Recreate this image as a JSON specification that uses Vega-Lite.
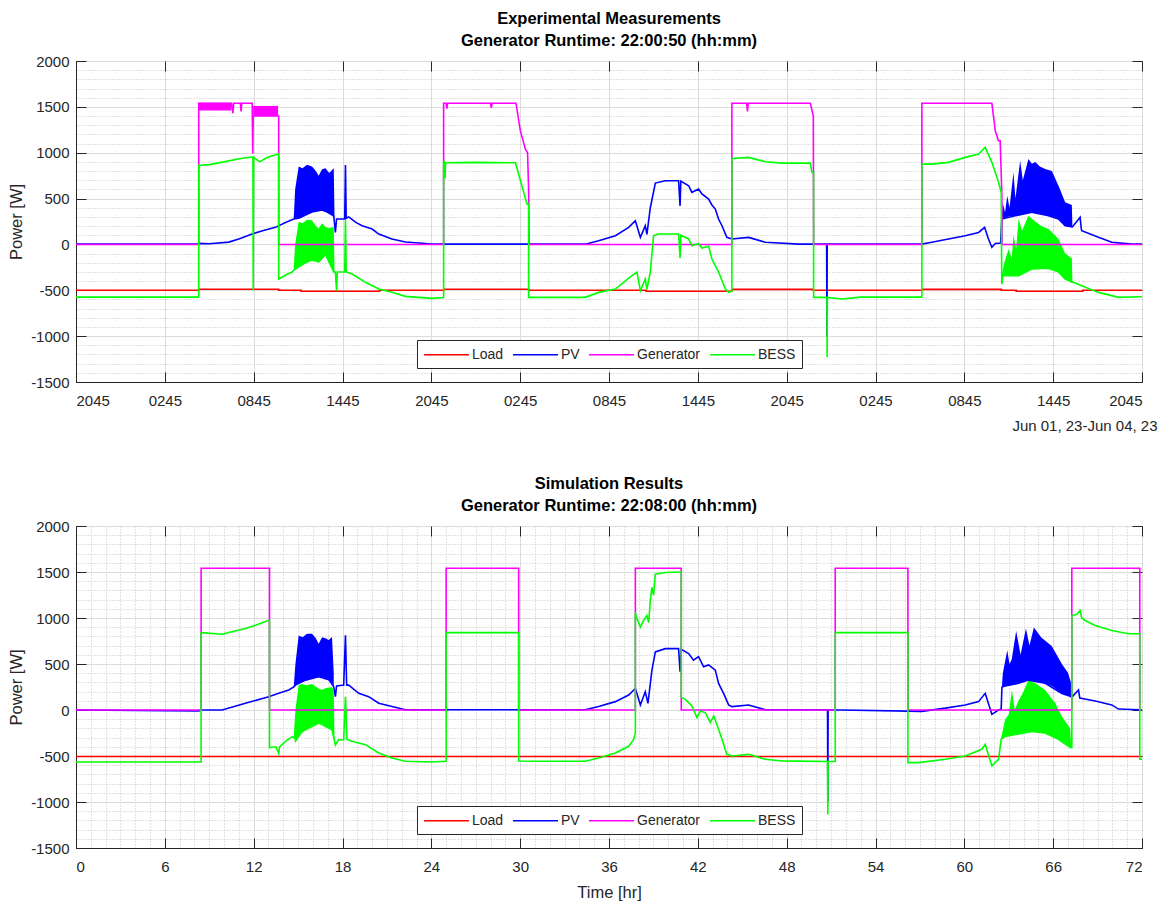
{
  "$schema": "https://vega.github.io/schema/vega-lite/v6.json",
  "background": "white",
  "padding": {"left": 8, "top": 10, "right": 2, "bottom": 2},
  "spacing": 41,
  "config": {
    "font": "Liberation Sans",
    "view": {"stroke": "#262626", "strokeWidth": 1},
    "axis": {"labelFont": "Liberation Sans", "labelFontSize": 15, "labelColor": "#262626", "titleFont": "Liberation Sans", "titleFontSize": 16.5, "titleFontWeight": "normal", "titleColor": "#262626", "domainColor": "#262626", "tickColor": "#262626", "labelOverlap": false, "labelBound": false},
    "title": {"font": "Liberation Sans", "fontSize": 16.5, "fontWeight": "bold", "color": "#000000", "lineHeight": 22, "offset": 5},
    "legend": {"orient": "none", "legendX": 341, "legendY": 279, "direction": "horizontal", "columns": 4, "symbolType": "M-1,0H5", "symbolSize": 225, "symbolStrokeWidth": 1.5, "labelOffset": 32, "labelFont": "Liberation Sans", "labelFontSize": 14, "labelColor": "#262626", "fillColor": "white", "strokeColor": "#262626", "padding": 6, "columnPadding": 6, "title": null}
  },
  "datasets": {
    "lines": [
      {"p":"E","s":"Load","t":0,"v":-500},{"p":"E","s":"Load","t":8.29,"v":-500},{"p":"E","s":"Load","t":8.29,"v":-488},{"p":"E","s":"Load","t":13.69,"v":-488},{"p":"E","s":"Load","t":13.69,"v":-500},{"p":"E","s":"Load","t":15.2,"v":-500},{"p":"E","s":"Load","t":15.2,"v":-510},{"p":"E","s":"Load","t":20.5,"v":-510},{"p":"E","s":"Load","t":20.5,"v":-500},{"p":"E","s":"Load","t":24.83,"v":-500},{"p":"E","s":"Load","t":24.83,"v":-488},{"p":"E","s":"Load","t":30.6,"v":-488},{"p":"E","s":"Load","t":30.6,"v":-500},{"p":"E","s":"Load","t":38.5,"v":-500},{"p":"E","s":"Load","t":38.5,"v":-510},{"p":"E","s":"Load","t":44.3,"v":-510},{"p":"E","s":"Load","t":44.3,"v":-490},{"p":"E","s":"Load","t":49.8,"v":-490},{"p":"E","s":"Load","t":49.8,"v":-500},{"p":"E","s":"Load","t":57.13,"v":-500},{"p":"E","s":"Load","t":57.13,"v":-490},{"p":"E","s":"Load","t":62.5,"v":-490},{"p":"E","s":"Load","t":62.5,"v":-500},{"p":"E","s":"Load","t":63.5,"v":-500},{"p":"E","s":"Load","t":63.5,"v":-510},{"p":"E","s":"Load","t":68,"v":-510},{"p":"E","s":"Load","t":68,"v":-500},{"p":"E","s":"Load","t":72,"v":-500},

      {"p":"E","s":"PV","t":0,"v":3},{"p":"E","s":"PV","t":8.25,"v":3},{"p":"E","s":"PV","t":8.3,"v":12},{"p":"E","s":"PV","t":9.0,"v":8},{"p":"E","s":"PV","t":10.32,"v":25},{"p":"E","s":"PV","t":11.0,"v":60},{"p":"E","s":"PV","t":11.89,"v":113},{"p":"E","s":"PV","t":12.6,"v":150},{"p":"E","s":"PV","t":13.47,"v":186},{"p":"E","s":"PV","t":14.15,"v":240},{"p":"E","s":"PV","t":14.71,"v":277},{"p":"E","s":"PV","t":15.04,"v":285},{"p":"E","s":"PV","t":15.5,"v":320},{"p":"E","s":"PV","t":15.94,"v":353},{"p":"E","s":"PV","t":16.62,"v":375},{"p":"E","s":"PV","t":17.0,"v":350},{"p":"E","s":"PV","t":17.41,"v":310},{"p":"E","s":"PV","t":17.52,"v":130},{"p":"E","s":"PV","t":17.6,"v":277},{"p":"E","s":"PV","t":18.15,"v":280},{"p":"E","s":"PV","t":18.2,"v":865},{"p":"E","s":"PV","t":18.25,"v":285},{"p":"E","s":"PV","t":18.42,"v":300},{"p":"E","s":"PV","t":18.9,"v":240},{"p":"E","s":"PV","t":19.32,"v":204},{"p":"E","s":"PV","t":20.0,"v":168},{"p":"E","s":"PV","t":20.45,"v":113},{"p":"E","s":"PV","t":21.34,"v":59},{"p":"E","s":"PV","t":22.25,"v":26},{"p":"E","s":"PV","t":23.15,"v":15},{"p":"E","s":"PV","t":24.05,"v":3},{"p":"E","s":"PV","t":34.4,"v":3},{"p":"E","s":"PV","t":35.3,"v":40},{"p":"E","s":"PV","t":36.43,"v":95},{"p":"E","s":"PV","t":37.33,"v":186},{"p":"E","s":"PV","t":37.78,"v":258},{"p":"E","s":"PV","t":38.12,"v":77},{"p":"E","s":"PV","t":38.45,"v":204},{"p":"E","s":"PV","t":38.56,"v":110},{"p":"E","s":"PV","t":38.79,"v":400},{"p":"E","s":"PV","t":39.13,"v":669},{"p":"E","s":"PV","t":39.8,"v":694},{"p":"E","s":"PV","t":40.7,"v":694},{"p":"E","s":"PV","t":40.8,"v":420},{"p":"E","s":"PV","t":40.85,"v":690},{"p":"E","s":"PV","t":41.38,"v":640},{"p":"E","s":"PV","t":41.6,"v":568},{"p":"E","s":"PV","t":42.05,"v":604},{"p":"E","s":"PV","t":42.28,"v":550},{"p":"E","s":"PV","t":42.73,"v":495},{"p":"E","s":"PV","t":42.95,"v":430},{"p":"E","s":"PV","t":43.18,"v":386},{"p":"E","s":"PV","t":43.4,"v":277},{"p":"E","s":"PV","t":43.63,"v":204},{"p":"E","s":"PV","t":43.96,"v":77},{"p":"E","s":"PV","t":44.3,"v":59},{"p":"E","s":"PV","t":45.43,"v":77},{"p":"E","s":"PV","t":46.56,"v":23},{"p":"E","s":"PV","t":48.8,"v":3},{"p":"E","s":"PV","t":50.7,"v":3},{"p":"E","s":"PV","t":50.72,"v":-1000},{"p":"E","s":"PV","t":50.74,"v":3},{"p":"E","s":"PV","t":57.13,"v":3},{"p":"E","s":"PV","t":57.8,"v":23},{"p":"E","s":"PV","t":58.93,"v":59},{"p":"E","s":"PV","t":60.06,"v":95},{"p":"E","s":"PV","t":60.96,"v":131},{"p":"E","s":"PV","t":61.37,"v":186},{"p":"E","s":"PV","t":61.63,"v":59},{"p":"E","s":"PV","t":61.86,"v":-32},{"p":"E","s":"PV","t":62.09,"v":10},{"p":"E","s":"PV","t":62.45,"v":15},{"p":"E","s":"PV","t":62.53,"v":277},{"p":"E","s":"PV","t":63.44,"v":313},{"p":"E","s":"PV","t":64.56,"v":350},{"p":"E","s":"PV","t":65.69,"v":313},{"p":"E","s":"PV","t":66.36,"v":277},{"p":"E","s":"PV","t":66.81,"v":204},{"p":"E","s":"PV","t":67.3,"v":190},{"p":"E","s":"PV","t":67.82,"v":295},{"p":"E","s":"PV","t":67.9,"v":170},{"p":"E","s":"PV","t":67.93,"v":150},{"p":"E","s":"PV","t":69.06,"v":77},{"p":"E","s":"PV","t":69.96,"v":23},{"p":"E","s":"PV","t":71.31,"v":3},{"p":"E","s":"PV","t":72,"v":3},

      {"p":"E","s":"Generator","t":0,"v":0},{"p":"E","s":"Generator","t":8.29,"v":0},{"p":"E","s":"Generator","t":8.29,"v":1540},{"p":"E","s":"Generator","t":10.5,"v":1540},{"p":"E","s":"Generator","t":10.6,"v":1430},{"p":"E","s":"Generator","t":10.65,"v":1540},{"p":"E","s":"Generator","t":11.1,"v":1540},{"p":"E","s":"Generator","t":11.15,"v":1450},{"p":"E","s":"Generator","t":11.2,"v":1540},{"p":"E","s":"Generator","t":11.9,"v":1540},{"p":"E","s":"Generator","t":11.94,"v":990},{"p":"E","s":"Generator","t":11.97,"v":1400},{"p":"E","s":"Generator","t":13.69,"v":1400},{"p":"E","s":"Generator","t":13.69,"v":0},{"p":"E","s":"Generator","t":24.83,"v":0},{"p":"E","s":"Generator","t":24.83,"v":1540},{"p":"E","s":"Generator","t":25.0,"v":1540},{"p":"E","s":"Generator","t":25.05,"v":1480},{"p":"E","s":"Generator","t":25.1,"v":1540},{"p":"E","s":"Generator","t":28.0,"v":1540},{"p":"E","s":"Generator","t":28.05,"v":1490},{"p":"E","s":"Generator","t":28.1,"v":1540},{"p":"E","s":"Generator","t":29.72,"v":1540},{"p":"E","s":"Generator","t":30.01,"v":1240},{"p":"E","s":"Generator","t":30.35,"v":1040},{"p":"E","s":"Generator","t":30.5,"v":1000},{"p":"E","s":"Generator","t":30.57,"v":603},{"p":"E","s":"Generator","t":30.6,"v":0},{"p":"E","s":"Generator","t":44.3,"v":0},{"p":"E","s":"Generator","t":44.3,"v":1540},{"p":"E","s":"Generator","t":45.3,"v":1540},{"p":"E","s":"Generator","t":45.35,"v":1450},{"p":"E","s":"Generator","t":45.4,"v":1540},{"p":"E","s":"Generator","t":49.6,"v":1540},{"p":"E","s":"Generator","t":49.8,"v":1400},{"p":"E","s":"Generator","t":49.82,"v":0},{"p":"E","s":"Generator","t":57.13,"v":0},{"p":"E","s":"Generator","t":57.13,"v":1540},{"p":"E","s":"Generator","t":61.86,"v":1540},{"p":"E","s":"Generator","t":62.09,"v":1240},{"p":"E","s":"Generator","t":62.3,"v":1130},{"p":"E","s":"Generator","t":62.42,"v":1130},{"p":"E","s":"Generator","t":62.53,"v":568},{"p":"E","s":"Generator","t":62.55,"v":0},{"p":"E","s":"Generator","t":72,"v":0},

      {"p":"E","s":"BESS","t":0,"v":-575},{"p":"E","s":"BESS","t":8.29,"v":-575},{"p":"E","s":"BESS","t":8.29,"v":860},{"p":"E","s":"BESS","t":9.0,"v":870},{"p":"E","s":"BESS","t":10.0,"v":900},{"p":"E","s":"BESS","t":11.0,"v":935},{"p":"E","s":"BESS","t":11.95,"v":955},{"p":"E","s":"BESS","t":11.97,"v":-505},{"p":"E","s":"BESS","t":12.0,"v":950},{"p":"E","s":"BESS","t":12.4,"v":900},{"p":"E","s":"BESS","t":12.8,"v":940},{"p":"E","s":"BESS","t":13.2,"v":965},{"p":"E","s":"BESS","t":13.69,"v":985},{"p":"E","s":"BESS","t":13.69,"v":-377},{"p":"E","s":"BESS","t":14.2,"v":-330},{"p":"E","s":"BESS","t":14.6,"v":-301},{"p":"E","s":"BESS","t":14.71,"v":-280},{"p":"E","s":"BESS","t":15.04,"v":-245},{"p":"E","s":"BESS","t":15.5,"v":-200},{"p":"E","s":"BESS","t":15.94,"v":-170},{"p":"E","s":"BESS","t":16.4,"v":-190},{"p":"E","s":"BESS","t":16.85,"v":-110},{"p":"E","s":"BESS","t":17.41,"v":-300},{"p":"E","s":"BESS","t":17.52,"v":-300},{"p":"E","s":"BESS","t":17.6,"v":-505},{"p":"E","s":"BESS","t":17.65,"v":-300},{"p":"E","s":"BESS","t":18.15,"v":-300},{"p":"E","s":"BESS","t":18.2,"v":264},{"p":"E","s":"BESS","t":18.25,"v":-300},{"p":"E","s":"BESS","t":18.65,"v":-323},{"p":"E","s":"BESS","t":19.55,"v":-413},{"p":"E","s":"BESS","t":20.45,"v":-486},{"p":"E","s":"BESS","t":21.34,"v":-522},{"p":"E","s":"BESS","t":22.25,"v":-566},{"p":"E","s":"BESS","t":24.05,"v":-588},{"p":"E","s":"BESS","t":24.83,"v":-580},{"p":"E","s":"BESS","t":24.83,"v":900},{"p":"E","s":"BESS","t":24.9,"v":900},{"p":"E","s":"BESS","t":24.93,"v":720},{"p":"E","s":"BESS","t":24.96,"v":890},{"p":"E","s":"BESS","t":27,"v":895},{"p":"E","s":"BESS","t":29.68,"v":890},{"p":"E","s":"BESS","t":30.46,"v":440},{"p":"E","s":"BESS","t":30.57,"v":440},{"p":"E","s":"BESS","t":30.57,"v":-577},{"p":"E","s":"BESS","t":34.4,"v":-577},{"p":"E","s":"BESS","t":35.3,"v":-523},{"p":"E","s":"BESS","t":36.43,"v":-486},{"p":"E","s":"BESS","t":37.55,"v":-341},{"p":"E","s":"BESS","t":37.89,"v":-301},{"p":"E","s":"BESS","t":38.12,"v":-505},{"p":"E","s":"BESS","t":38.45,"v":-377},{"p":"E","s":"BESS","t":38.56,"v":-490},{"p":"E","s":"BESS","t":38.79,"v":-300},{"p":"E","s":"BESS","t":39.01,"v":95},{"p":"E","s":"BESS","t":39.35,"v":113},{"p":"E","s":"BESS","t":40.7,"v":113},{"p":"E","s":"BESS","t":40.8,"v":-150},{"p":"E","s":"BESS","t":40.85,"v":100},{"p":"E","s":"BESS","t":41.38,"v":60},{"p":"E","s":"BESS","t":41.6,"v":-14},{"p":"E","s":"BESS","t":42.05,"v":10},{"p":"E","s":"BESS","t":42.28,"v":-40},{"p":"E","s":"BESS","t":42.73,"v":-20},{"p":"E","s":"BESS","t":42.95,"v":-159},{"p":"E","s":"BESS","t":43.4,"v":-301},{"p":"E","s":"BESS","t":43.86,"v":-486},{"p":"E","s":"BESS","t":44.08,"v":-523},{"p":"E","s":"BESS","t":44.3,"v":-510},{"p":"E","s":"BESS","t":44.3,"v":938},{"p":"E","s":"BESS","t":45.43,"v":949},{"p":"E","s":"BESS","t":46.56,"v":901},{"p":"E","s":"BESS","t":47.68,"v":887},{"p":"E","s":"BESS","t":49.6,"v":887},{"p":"E","s":"BESS","t":49.7,"v":785},{"p":"E","s":"BESS","t":49.82,"v":785},{"p":"E","s":"BESS","t":49.82,"v":-577},{"p":"E","s":"BESS","t":50.72,"v":-577},{"p":"E","s":"BESS","t":50.73,"v":-1231},{"p":"E","s":"BESS","t":50.75,"v":-577},{"p":"E","s":"BESS","t":51.73,"v":-595},{"p":"E","s":"BESS","t":53,"v":-575},{"p":"E","s":"BESS","t":57.13,"v":-575},{"p":"E","s":"BESS","t":57.13,"v":876},{"p":"E","s":"BESS","t":57.8,"v":876},{"p":"E","s":"BESS","t":58.93,"v":895},{"p":"E","s":"BESS","t":60.06,"v":949},{"p":"E","s":"BESS","t":60.96,"v":985},{"p":"E","s":"BESS","t":61.41,"v":1058},{"p":"E","s":"BESS","t":61.86,"v":895},{"p":"E","s":"BESS","t":62.31,"v":677},{"p":"E","s":"BESS","t":62.49,"v":568},{"p":"E","s":"BESS","t":62.53,"v":-432},{"p":"E","s":"BESS","t":62.6,"v":-341},{"p":"E","s":"BESS","t":63.66,"v":-341},{"p":"E","s":"BESS","t":64.56,"v":-268},{"p":"E","s":"BESS","t":65.69,"v":-260},{"p":"E","s":"BESS","t":66.36,"v":-301},{"p":"E","s":"BESS","t":66.81,"v":-377},{"p":"E","s":"BESS","t":67.93,"v":-450},{"p":"E","s":"BESS","t":69.06,"v":-523},{"p":"E","s":"BESS","t":70.41,"v":-577},{"p":"E","s":"BESS","t":71.76,"v":-570},{"p":"E","s":"BESS","t":72,"v":-570},

      {"p":"S","s":"Load","t":0,"v":-505},{"p":"S","s":"Load","t":72,"v":-505},

      {"p":"S","s":"PV","t":0,"v":0},{"p":"S","s":"PV","t":8.29,"v":-11},{"p":"S","s":"PV","t":8.45,"v":0},{"p":"S","s":"PV","t":9.87,"v":0},{"p":"S","s":"PV","t":11.44,"v":73},{"p":"S","s":"PV","t":13.02,"v":145},{"p":"S","s":"PV","t":13.69,"v":181},{"p":"S","s":"PV","t":14.37,"v":217},{"p":"S","s":"PV","t":14.71,"v":250},{"p":"S","s":"PV","t":14.82,"v":270},{"p":"S","s":"PV","t":15.5,"v":325},{"p":"S","s":"PV","t":16.39,"v":361},{"p":"S","s":"PV","t":17.07,"v":330},{"p":"S","s":"PV","t":17.41,"v":253},{"p":"S","s":"PV","t":17.52,"v":145},{"p":"S","s":"PV","t":17.6,"v":260},{"p":"S","s":"PV","t":18.08,"v":270},{"p":"S","s":"PV","t":18.2,"v":811},{"p":"S","s":"PV","t":18.28,"v":270},{"p":"S","s":"PV","t":18.42,"v":270},{"p":"S","s":"PV","t":19.1,"v":181},{"p":"S","s":"PV","t":19.77,"v":145},{"p":"S","s":"PV","t":20.45,"v":73},{"p":"S","s":"PV","t":21.34,"v":37},{"p":"S","s":"PV","t":22.25,"v":3},{"p":"S","s":"PV","t":34.4,"v":3},{"p":"S","s":"PV","t":35.3,"v":37},{"p":"S","s":"PV","t":36.43,"v":91},{"p":"S","s":"PV","t":37.33,"v":163},{"p":"S","s":"PV","t":37.78,"v":235},{"p":"S","s":"PV","t":38.12,"v":55},{"p":"S","s":"PV","t":38.45,"v":199},{"p":"S","s":"PV","t":38.63,"v":73},{"p":"S","s":"PV","t":38.9,"v":433},{"p":"S","s":"PV","t":39.13,"v":631},{"p":"S","s":"PV","t":39.8,"v":667},{"p":"S","s":"PV","t":40.7,"v":667},{"p":"S","s":"PV","t":40.8,"v":415},{"p":"S","s":"PV","t":40.88,"v":660},{"p":"S","s":"PV","t":41.38,"v":613},{"p":"S","s":"PV","t":41.71,"v":541},{"p":"S","s":"PV","t":42.05,"v":580},{"p":"S","s":"PV","t":42.39,"v":469},{"p":"S","s":"PV","t":42.73,"v":490},{"p":"S","s":"PV","t":43.18,"v":433},{"p":"S","s":"PV","t":43.4,"v":289},{"p":"S","s":"PV","t":43.74,"v":181},{"p":"S","s":"PV","t":44.08,"v":55},{"p":"S","s":"PV","t":44.3,"v":37},{"p":"S","s":"PV","t":45.43,"v":55},{"p":"S","s":"PV","t":46.56,"v":3},{"p":"S","s":"PV","t":50.76,"v":3},{"p":"S","s":"PV","t":50.78,"v":-1000},{"p":"S","s":"PV","t":50.8,"v":3},{"p":"S","s":"PV","t":57.13,"v":-15},{"p":"S","s":"PV","t":58.71,"v":20},{"p":"S","s":"PV","t":60.06,"v":55},{"p":"S","s":"PV","t":60.96,"v":91},{"p":"S","s":"PV","t":61.41,"v":181},{"p":"S","s":"PV","t":61.86,"v":-47},{"p":"S","s":"PV","t":62.31,"v":0},{"p":"S","s":"PV","t":62.49,"v":10},{"p":"S","s":"PV","t":62.54,"v":250},{"p":"S","s":"PV","t":62.76,"v":261},{"p":"S","s":"PV","t":63.66,"v":290},{"p":"S","s":"PV","t":64.33,"v":325},{"p":"S","s":"PV","t":65.46,"v":290},{"p":"S","s":"PV","t":66.59,"v":180},{"p":"S","s":"PV","t":67.15,"v":150},{"p":"S","s":"PV","t":67.26,"v":140},{"p":"S","s":"PV","t":67.71,"v":217},{"p":"S","s":"PV","t":67.8,"v":130},{"p":"S","s":"PV","t":68.84,"v":98},{"p":"S","s":"PV","t":69.96,"v":55},{"p":"S","s":"PV","t":70.41,"v":10},{"p":"S","s":"PV","t":71.76,"v":3},{"p":"S","s":"PV","t":72,"v":3},

      {"p":"S","s":"Generator","t":0,"v":0},{"p":"S","s":"Generator","t":8.45,"v":0},{"p":"S","s":"Generator","t":8.45,"v":1540},{"p":"S","s":"Generator","t":13.07,"v":1540},{"p":"S","s":"Generator","t":13.07,"v":0},{"p":"S","s":"Generator","t":25.0,"v":0},{"p":"S","s":"Generator","t":25.0,"v":1540},{"p":"S","s":"Generator","t":29.9,"v":1540},{"p":"S","s":"Generator","t":29.9,"v":0},{"p":"S","s":"Generator","t":37.78,"v":0},{"p":"S","s":"Generator","t":37.78,"v":1540},{"p":"S","s":"Generator","t":40.88,"v":1540},{"p":"S","s":"Generator","t":40.88,"v":0},{"p":"S","s":"Generator","t":51.28,"v":0},{"p":"S","s":"Generator","t":51.28,"v":1540},{"p":"S","s":"Generator","t":56.19,"v":1540},{"p":"S","s":"Generator","t":56.19,"v":0},{"p":"S","s":"Generator","t":67.26,"v":0},{"p":"S","s":"Generator","t":67.26,"v":1540},{"p":"S","s":"Generator","t":71.85,"v":1540},{"p":"S","s":"Generator","t":71.85,"v":0},{"p":"S","s":"Generator","t":72,"v":0},

      {"p":"S","s":"BESS","t":0,"v":-565},{"p":"S","s":"BESS","t":8.45,"v":-565},{"p":"S","s":"BESS","t":8.45,"v":841},{"p":"S","s":"BESS","t":9.87,"v":823},{"p":"S","s":"BESS","t":10.54,"v":850},{"p":"S","s":"BESS","t":11.44,"v":885},{"p":"S","s":"BESS","t":12.12,"v":920},{"p":"S","s":"BESS","t":13.02,"v":975},{"p":"S","s":"BESS","t":13.07,"v":975},{"p":"S","s":"BESS","t":13.07,"v":-409},{"p":"S","s":"BESS","t":13.5,"v":-400},{"p":"S","s":"BESS","t":13.69,"v":-470},{"p":"S","s":"BESS","t":13.75,"v":-400},{"p":"S","s":"BESS","t":14.15,"v":-341},{"p":"S","s":"BESS","t":14.59,"v":-290},{"p":"S","s":"BESS","t":14.71,"v":-300},{"p":"S","s":"BESS","t":15.04,"v":-250},{"p":"S","s":"BESS","t":15.5,"v":-215},{"p":"S","s":"BESS","t":16.4,"v":-143},{"p":"S","s":"BESS","t":17.29,"v":-215},{"p":"S","s":"BESS","t":17.52,"v":-380},{"p":"S","s":"BESS","t":17.74,"v":-323},{"p":"S","s":"BESS","t":18.08,"v":-323},{"p":"S","s":"BESS","t":18.2,"v":145},{"p":"S","s":"BESS","t":18.3,"v":-320},{"p":"S","s":"BESS","t":18.64,"v":-340},{"p":"S","s":"BESS","t":19.55,"v":-377},{"p":"S","s":"BESS","t":20.45,"v":-467},{"p":"S","s":"BESS","t":21.34,"v":-521},{"p":"S","s":"BESS","t":22.25,"v":-557},{"p":"S","s":"BESS","t":24.05,"v":-565},{"p":"S","s":"BESS","t":25.0,"v":-557},{"p":"S","s":"BESS","t":25.0,"v":841},{"p":"S","s":"BESS","t":29.9,"v":841},{"p":"S","s":"BESS","t":29.9,"v":-554},{"p":"S","s":"BESS","t":30.8,"v":-557},{"p":"S","s":"BESS","t":34.4,"v":-557},{"p":"S","s":"BESS","t":35.3,"v":-521},{"p":"S","s":"BESS","t":36.43,"v":-467},{"p":"S","s":"BESS","t":37.33,"v":-395},{"p":"S","s":"BESS","t":37.66,"v":-323},{"p":"S","s":"BESS","t":37.78,"v":-251},{"p":"S","s":"BESS","t":37.78,"v":1063},{"p":"S","s":"BESS","t":37.85,"v":1009},{"p":"S","s":"BESS","t":38.12,"v":901},{"p":"S","s":"BESS","t":38.34,"v":973},{"p":"S","s":"BESS","t":38.56,"v":1027},{"p":"S","s":"BESS","t":38.68,"v":950},{"p":"S","s":"BESS","t":38.79,"v":1189},{"p":"S","s":"BESS","t":38.9,"v":1333},{"p":"S","s":"BESS","t":39.01,"v":1250},{"p":"S","s":"BESS","t":39.13,"v":1477},{"p":"S","s":"BESS","t":39.8,"v":1495},{"p":"S","s":"BESS","t":40.82,"v":1500},{"p":"S","s":"BESS","t":40.88,"v":1500},{"p":"S","s":"BESS","t":40.88,"v":135},{"p":"S","s":"BESS","t":41.15,"v":116},{"p":"S","s":"BESS","t":41.6,"v":43},{"p":"S","s":"BESS","t":41.94,"v":-83},{"p":"S","s":"BESS","t":42.17,"v":-11},{"p":"S","s":"BESS","t":42.5,"v":-28},{"p":"S","s":"BESS","t":42.84,"v":-137},{"p":"S","s":"BESS","t":43.07,"v":-65},{"p":"S","s":"BESS","t":43.4,"v":-210},{"p":"S","s":"BESS","t":43.63,"v":-318},{"p":"S","s":"BESS","t":43.96,"v":-482},{"p":"S","s":"BESS","t":44.3,"v":-500},{"p":"S","s":"BESS","t":45.43,"v":-482},{"p":"S","s":"BESS","t":46.56,"v":-536},{"p":"S","s":"BESS","t":47.68,"v":-554},{"p":"S","s":"BESS","t":48.8,"v":-556},{"p":"S","s":"BESS","t":50.76,"v":-560},{"p":"S","s":"BESS","t":50.78,"v":-1134},{"p":"S","s":"BESS","t":50.8,"v":-560},{"p":"S","s":"BESS","t":51.28,"v":-560},{"p":"S","s":"BESS","t":51.28,"v":841},{"p":"S","s":"BESS","t":56.19,"v":841},{"p":"S","s":"BESS","t":56.19,"v":-572},{"p":"S","s":"BESS","t":56.91,"v":-572},{"p":"S","s":"BESS","t":58.71,"v":-536},{"p":"S","s":"BESS","t":60.06,"v":-500},{"p":"S","s":"BESS","t":61.18,"v":-427},{"p":"S","s":"BESS","t":61.41,"v":-372},{"p":"S","s":"BESS","t":61.86,"v":-608},{"p":"S","s":"BESS","t":62.31,"v":-536},{"p":"S","s":"BESS","t":62.49,"v":-318},{"p":"S","s":"BESS","t":62.76,"v":-287},{"p":"S","s":"BESS","t":63.66,"v":-260},{"p":"S","s":"BESS","t":64.56,"v":-233},{"p":"S","s":"BESS","t":65.46,"v":-250},{"p":"S","s":"BESS","t":66.36,"v":-318},{"p":"S","s":"BESS","t":67.03,"v":-395},{"p":"S","s":"BESS","t":67.21,"v":-410},{"p":"S","s":"BESS","t":67.26,"v":-410},{"p":"S","s":"BESS","t":67.26,"v":1027},{"p":"S","s":"BESS","t":67.6,"v":1040},{"p":"S","s":"BESS","t":67.82,"v":1081},{"p":"S","s":"BESS","t":67.93,"v":1000},{"p":"S","s":"BESS","t":68.16,"v":973},{"p":"S","s":"BESS","t":68.84,"v":919},{"p":"S","s":"BESS","t":69.96,"v":865},{"p":"S","s":"BESS","t":71.09,"v":829},{"p":"S","s":"BESS","t":71.85,"v":829},{"p":"S","s":"BESS","t":71.85,"v":-536},{"p":"S","s":"BESS","t":72,"v":-536}
    ],
    "bands": [
      {"p":"E","s":"Generator","b":"E3","t":8.3,"lo":1460,"hi":1545},{"p":"E","s":"Generator","b":"E3","t":10.5,"lo":1460,"hi":1545},
      {"p":"E","s":"Generator","b":"E4","t":11.97,"lo":1400,"hi":1510},{"p":"E","s":"Generator","b":"E4","t":13.65,"lo":1400,"hi":1510},
      {"p":"E","s":"PV","b":"E1","t":14.71,"lo":277,"hi":300},{"p":"E","s":"PV","b":"E1","t":14.8,"lo":280,"hi":600},{"p":"E","s":"PV","b":"E1","t":15.04,"lo":285,"hi":851},{"p":"E","s":"PV","b":"E1","t":15.3,"lo":300,"hi":830},{"p":"E","s":"PV","b":"E1","t":15.6,"lo":325,"hi":870},{"p":"E","s":"PV","b":"E1","t":15.94,"lo":353,"hi":851},{"p":"E","s":"PV","b":"E1","t":16.2,"lo":365,"hi":800},{"p":"E","s":"PV","b":"E1","t":16.39,"lo":370,"hi":749},{"p":"E","s":"PV","b":"E1","t":16.62,"lo":375,"hi":820},{"p":"E","s":"PV","b":"E1","t":16.85,"lo":360,"hi":830},{"p":"E","s":"PV","b":"E1","t":17.1,"lo":340,"hi":780},{"p":"E","s":"PV","b":"E1","t":17.41,"lo":310,"hi":830},{"p":"E","s":"PV","b":"E1","t":17.46,"lo":300,"hi":310},
      {"p":"E","s":"BESS","b":"E2","t":14.71,"lo":-280,"hi":-250},{"p":"E","s":"BESS","b":"E2","t":14.8,"lo":-270,"hi":0},{"p":"E","s":"BESS","b":"E2","t":15.04,"lo":-245,"hi":246},{"p":"E","s":"BESS","b":"E2","t":15.3,"lo":-220,"hi":230},{"p":"E","s":"BESS","b":"E2","t":15.6,"lo":-200,"hi":270},{"p":"E","s":"BESS","b":"E2","t":15.94,"lo":-170,"hi":264},{"p":"E","s":"BESS","b":"E2","t":16.2,"lo":-180,"hi":200},{"p":"E","s":"BESS","b":"E2","t":16.39,"lo":-190,"hi":174},{"p":"E","s":"BESS","b":"E2","t":16.62,"lo":-150,"hi":230},{"p":"E","s":"BESS","b":"E2","t":16.85,"lo":-110,"hi":191},{"p":"E","s":"BESS","b":"E2","t":17.1,"lo":-200,"hi":180},{"p":"E","s":"BESS","b":"E2","t":17.41,"lo":-300,"hi":191},{"p":"E","s":"BESS","b":"E2","t":17.46,"lo":-300,"hi":-280},
      {"p":"E","s":"PV","b":"E5","t":62.53,"lo":277,"hi":300},{"p":"E","s":"PV","b":"E5","t":62.6,"lo":280,"hi":450},{"p":"E","s":"PV","b":"E5","t":62.75,"lo":290,"hi":350},{"p":"E","s":"PV","b":"E5","t":62.9,"lo":300,"hi":530},{"p":"E","s":"PV","b":"E5","t":63.05,"lo":305,"hi":400},{"p":"E","s":"PV","b":"E5","t":63.32,"lo":310,"hi":786},{"p":"E","s":"PV","b":"E5","t":63.45,"lo":313,"hi":500},{"p":"E","s":"PV","b":"E5","t":63.77,"lo":320,"hi":912},{"p":"E","s":"PV","b":"E5","t":63.95,"lo":330,"hi":700},{"p":"E","s":"PV","b":"E5","t":64.33,"lo":340,"hi":931},{"p":"E","s":"PV","b":"E5","t":64.56,"lo":350,"hi":880},{"p":"E","s":"PV","b":"E5","t":64.79,"lo":340,"hi":900},{"p":"E","s":"PV","b":"E5","t":65.1,"lo":330,"hi":850},{"p":"E","s":"PV","b":"E5","t":65.46,"lo":320,"hi":822},{"p":"E","s":"PV","b":"E5","t":65.91,"lo":300,"hi":800},{"p":"E","s":"PV","b":"E5","t":66.36,"lo":277,"hi":640},{"p":"E","s":"PV","b":"E5","t":66.81,"lo":204,"hi":459},{"p":"E","s":"PV","b":"E5","t":67.26,"lo":190,"hi":430},{"p":"E","s":"PV","b":"E5","t":67.3,"lo":190,"hi":200},
      {"p":"E","s":"BESS","b":"E6","t":62.53,"lo":-341,"hi":-330},{"p":"E","s":"BESS","b":"E6","t":62.7,"lo":-341,"hi":-200},{"p":"E","s":"BESS","b":"E6","t":62.99,"lo":-341,"hi":-50},{"p":"E","s":"BESS","b":"E6","t":63.2,"lo":-341,"hi":-150},{"p":"E","s":"BESS","b":"E6","t":63.32,"lo":-341,"hi":100},{"p":"E","s":"BESS","b":"E6","t":63.5,"lo":-341,"hi":-50},{"p":"E","s":"BESS","b":"E6","t":63.66,"lo":-341,"hi":277},{"p":"E","s":"BESS","b":"E6","t":63.9,"lo":-320,"hi":150},{"p":"E","s":"BESS","b":"E6","t":64.33,"lo":-290,"hi":313},{"p":"E","s":"BESS","b":"E6","t":64.56,"lo":-268,"hi":280},{"p":"E","s":"BESS","b":"E6","t":64.79,"lo":-265,"hi":250},{"p":"E","s":"BESS","b":"E6","t":65.2,"lo":-262,"hi":200},{"p":"E","s":"BESS","b":"E6","t":65.69,"lo":-260,"hi":168},{"p":"E","s":"BESS","b":"E6","t":66.0,"lo":-280,"hi":120},{"p":"E","s":"BESS","b":"E6","t":66.36,"lo":-301,"hi":59},{"p":"E","s":"BESS","b":"E6","t":66.81,"lo":-377,"hi":-100},{"p":"E","s":"BESS","b":"E6","t":67.26,"lo":-420,"hi":-150},{"p":"E","s":"BESS","b":"E6","t":67.3,"lo":-425,"hi":-400},
      {"p":"S","s":"PV","b":"S1","t":14.71,"lo":250,"hi":260},{"p":"S","s":"PV","b":"S1","t":14.82,"lo":270,"hi":500},{"p":"S","s":"PV","b":"S1","t":15.04,"lo":290,"hi":811},{"p":"S","s":"PV","b":"S1","t":15.3,"lo":310,"hi":790},{"p":"S","s":"PV","b":"S1","t":15.6,"lo":330,"hi":830},{"p":"S","s":"PV","b":"S1","t":15.94,"lo":345,"hi":829},{"p":"S","s":"PV","b":"S1","t":16.2,"lo":355,"hi":780},{"p":"S","s":"PV","b":"S1","t":16.39,"lo":361,"hi":721},{"p":"S","s":"PV","b":"S1","t":16.62,"lo":355,"hi":790},{"p":"S","s":"PV","b":"S1","t":16.85,"lo":345,"hi":780},{"p":"S","s":"PV","b":"S1","t":17.07,"lo":330,"hi":760},{"p":"S","s":"PV","b":"S1","t":17.29,"lo":290,"hi":793},{"p":"S","s":"PV","b":"S1","t":17.41,"lo":253,"hi":400},
      {"p":"S","s":"BESS","b":"S2","t":14.71,"lo":-300,"hi":-280},{"p":"S","s":"BESS","b":"S2","t":14.82,"lo":-360,"hi":0},{"p":"S","s":"BESS","b":"S2","t":15.04,"lo":-300,"hi":271},{"p":"S","s":"BESS","b":"S2","t":15.27,"lo":-250,"hi":282},{"p":"S","s":"BESS","b":"S2","t":15.5,"lo":-215,"hi":270},{"p":"S","s":"BESS","b":"S2","t":15.94,"lo":-170,"hi":282},{"p":"S","s":"BESS","b":"S2","t":16.4,"lo":-143,"hi":230},{"p":"S","s":"BESS","b":"S2","t":16.62,"lo":-150,"hi":219},{"p":"S","s":"BESS","b":"S2","t":16.9,"lo":-180,"hi":240},{"p":"S","s":"BESS","b":"S2","t":17.29,"lo":-215,"hi":250},{"p":"S","s":"BESS","b":"S2","t":17.41,"lo":-300,"hi":200},{"p":"S","s":"BESS","b":"S2","t":17.46,"lo":-380,"hi":-300},
      {"p":"S","s":"PV","b":"S3","t":62.54,"lo":250,"hi":260},{"p":"S","s":"PV","b":"S3","t":62.6,"lo":255,"hi":400},{"p":"S","s":"PV","b":"S3","t":62.9,"lo":265,"hi":650},{"p":"S","s":"PV","b":"S3","t":63.05,"lo":270,"hi":500},{"p":"S","s":"PV","b":"S3","t":63.2,"lo":275,"hi":550},{"p":"S","s":"PV","b":"S3","t":63.5,"lo":285,"hi":860},{"p":"S","s":"PV","b":"S3","t":63.8,"lo":295,"hi":600},{"p":"S","s":"PV","b":"S3","t":64.16,"lo":315,"hi":885},{"p":"S","s":"PV","b":"S3","t":64.4,"lo":322,"hi":700},{"p":"S","s":"PV","b":"S3","t":64.7,"lo":315,"hi":896},{"p":"S","s":"PV","b":"S3","t":65.2,"lo":300,"hi":787},{"p":"S","s":"PV","b":"S3","t":65.9,"lo":260,"hi":696},{"p":"S","s":"PV","b":"S3","t":66.6,"lo":180,"hi":497},{"p":"S","s":"PV","b":"S3","t":67.0,"lo":155,"hi":406},{"p":"S","s":"PV","b":"S3","t":67.2,"lo":142,"hi":300},
      {"p":"S","s":"BESS","b":"S4","t":62.49,"lo":-318,"hi":-300},{"p":"S","s":"BESS","b":"S4","t":62.76,"lo":-287,"hi":-100},{"p":"S","s":"BESS","b":"S4","t":63.0,"lo":-280,"hi":-50},{"p":"S","s":"BESS","b":"S4","t":63.21,"lo":-275,"hi":217},{"p":"S","s":"BESS","b":"S4","t":63.4,"lo":-270,"hi":0},{"p":"S","s":"BESS","b":"S4","t":63.66,"lo":-260,"hi":100},{"p":"S","s":"BESS","b":"S4","t":64.0,"lo":-245,"hi":200},{"p":"S","s":"BESS","b":"S4","t":64.33,"lo":-240,"hi":325},{"p":"S","s":"BESS","b":"S4","t":64.79,"lo":-240,"hi":290},{"p":"S","s":"BESS","b":"S4","t":65.46,"lo":-250,"hi":217},{"p":"S","s":"BESS","b":"S4","t":66.14,"lo":-300,"hi":73},{"p":"S","s":"BESS","b":"S4","t":66.59,"lo":-340,"hi":-71},{"p":"S","s":"BESS","b":"S4","t":67.15,"lo":-400,"hi":-200},{"p":"S","s":"BESS","b":"S4","t":67.21,"lo":-410,"hi":-380}
    ]
  },
  "resolve": {"legend": {"color": "independent"}},
  "vconcat": [
    {
      "title": {"text": ["Experimental Measurements", "Generator Runtime: 22:00:50 (hh:mm)"]},
      "width": 1066,
      "height": 321,
      "resolve": {"axis": {"x": "independent", "y": "independent"}},
      "layer": [
        {
          "data": {"name": "bands"},
          "transform": [{"filter": "datum.p === 'E' && datum.s === 'PV'"}],
          "mark": {"type": "area", "color": "#0000FF"},
          "encoding": {
            "x": {"field": "t", "type": "quantitative", "scale": {"domain": [0, 72], "nice": false}, "axis": {"orient": "top", "values": [0,6,12,18,24,30,36,42,48,54,60,66,72], "labels": false, "grid": false, "domain": false, "tickSize": -10, "title": null}},
            "y": {"field": "lo", "type": "quantitative", "scale": {"domain": [-1500, 2000], "nice": false}, "axis": {"orient": "right", "values": [-1500,-1000,-500,0,500,1000,1500,2000], "labels": false, "grid": false, "domain": false, "tickSize": -10, "title": null}},
            "y2": {"field": "hi"},
            "detail": {"field": "b"}
          }
        },
        {
          "data": {"name": "bands"},
          "transform": [{"filter": "datum.p === 'E' && datum.s === 'Generator'"}],
          "mark": {"type": "area", "color": "#FF00FF"},
          "encoding": {
            "x": {"field": "t", "type": "quantitative", "axis": null},
            "y": {"field": "lo", "type": "quantitative", "axis": null},
            "y2": {"field": "hi"},
            "detail": {"field": "b"}
          }
        },
        {
          "data": {"name": "bands"},
          "transform": [{"filter": "datum.p === 'E' && datum.s === 'BESS'"}],
          "mark": {"type": "area", "color": "#00FF00"},
          "encoding": {
            "x": {"field": "t", "type": "quantitative", "axis": null},
            "y": {"field": "lo", "type": "quantitative", "axis": null},
            "y2": {"field": "hi"},
            "detail": {"field": "b"}
          }
        },
        {
          "data": {"name": "lines"},
          "transform": [{"filter": "datum.p === 'E'"}],
          "mark": {"type": "line", "strokeWidth": 1.6},
          "encoding": {
            "x": {"field": "t", "type": "quantitative", "scale": {"domain": [0, 72], "nice": false}, "axis": {"orient": "bottom", "values": [0,6,12,18,24,30,36,42,48,54,60,66,72], "labelExpr": "['2045','0245','0845','1445'][(datum.value/6)%4]", "grid": true, "gridColor": "#dcdcdc", "tickSize": -10, "labelPadding": 21, "title": "Jun 01, 23-Jun 04, 23", "titleFontSize": 15, "titleAlign": "right", "titleAnchor": "end", "titleX": 1081, "titlePadding": 10}},
            "y": {"field": "v", "type": "quantitative", "scale": {"domain": [-1500, 2000], "nice": false}, "axis": {"orient": "left", "values": [-1500,-1400,-1300,-1200,-1100,-1000,-900,-800,-700,-600,-500,-400,-300,-200,-100,0,100,200,300,400,500,600,700,800,900,1000,1100,1200,1300,1400,1500,1600,1700,1800,1900,2000], "labelExpr": "datum.value % 500 === 0 ? '' + datum.value : ''", "grid": true, "gridColor": {"condition": {"test": "datum.value % 500 !== 0", "value": "#c4c4c4"}, "value": "#dcdcdc"}, "gridDash": {"condition": {"test": "datum.value % 500 !== 0", "value": [1, 2]}, "value": []}, "tickOpacity": {"condition": {"test": "datum.value % 500 !== 0", "value": 0}, "value": 1}, "tickSize": -10, "labelPadding": 17, "title": "Power [W]", "titlePadding": 6}},
            "color": {"field": "s", "type": "nominal", "scale": {"domain": ["Load", "PV", "Generator", "BESS"], "range": ["#FF0000", "#0000FF", "#FF00FF", "#00FF00"]}, "legend": {"legendX": 341, "legendY": 279}},
            "order": {"value": null}
          }
        }
      ]
    },
    {
      "title": {"text": ["Simulation Results", "Generator Runtime: 22:08:00 (hh:mm)"]},
      "width": 1066,
      "height": 322,
      "resolve": {"axis": {"x": "independent", "y": "independent"}},
      "layer": [
        {
          "data": {"name": "bands"},
          "transform": [{"filter": "datum.p === 'S' && datum.s === 'PV'"}],
          "mark": {"type": "area", "color": "#0000FF"},
          "encoding": {
            "x": {"field": "t", "type": "quantitative", "scale": {"domain": [0, 72], "nice": false}, "axis": {"orient": "top", "values": [0,6,12,18,24,30,36,42,48,54,60,66,72], "labels": false, "grid": false, "domain": false, "tickSize": -10, "title": null}},
            "y": {"field": "lo", "type": "quantitative", "scale": {"domain": [-1500, 2000], "nice": false}, "axis": {"orient": "right", "values": [-1500,-1000,-500,0,500,1000,1500,2000], "labels": false, "grid": false, "domain": false, "tickSize": -10, "title": null}},
            "y2": {"field": "hi"},
            "detail": {"field": "b"}
          }
        },
        {
          "data": {"name": "bands"},
          "transform": [{"filter": "datum.p === 'S' && datum.s === 'BESS'"}],
          "mark": {"type": "area", "color": "#00FF00"},
          "encoding": {
            "x": {"field": "t", "type": "quantitative", "axis": null},
            "y": {"field": "lo", "type": "quantitative", "axis": null},
            "y2": {"field": "hi"},
            "detail": {"field": "b"}
          }
        },
        {
          "data": {"name": "lines"},
          "transform": [{"filter": "datum.p === 'S'"}],
          "mark": {"type": "line", "strokeWidth": 1.6},
          "encoding": {
            "x": {"field": "t", "type": "quantitative", "scale": {"domain": [0, 72], "nice": false}, "axis": {"orient": "bottom", "values": [0,1,2,3,4,5,6,7,8,9,10,11,12,13,14,15,16,17,18,19,20,21,22,23,24,25,26,27,28,29,30,31,32,33,34,35,36,37,38,39,40,41,42,43,44,45,46,47,48,49,50,51,52,53,54,55,56,57,58,59,60,61,62,63,64,65,66,67,68,69,70,71,72], "labelExpr": "datum.value % 6 === 0 ? '' + datum.value : ''", "grid": true, "gridColor": {"condition": {"test": "datum.value % 6 !== 0", "value": "#c4c4c4"}, "value": "#dcdcdc"}, "gridDash": {"condition": {"test": "datum.value % 6 !== 0", "value": [1, 2]}, "value": []}, "tickOpacity": {"condition": {"test": "datum.value % 6 !== 0", "value": 0}, "value": 1}, "tickSize": -10, "labelPadding": 21, "title": "Time [hr]", "titlePadding": 10}},
            "y": {"field": "v", "type": "quantitative", "scale": {"domain": [-1500, 2000], "nice": false}, "axis": {"orient": "left", "values": [-1500,-1400,-1300,-1200,-1100,-1000,-900,-800,-700,-600,-500,-400,-300,-200,-100,0,100,200,300,400,500,600,700,800,900,1000,1100,1200,1300,1400,1500,1600,1700,1800,1900,2000], "labelExpr": "datum.value % 500 === 0 ? '' + datum.value : ''", "grid": true, "gridColor": {"condition": {"test": "datum.value % 500 !== 0", "value": "#c4c4c4"}, "value": "#dcdcdc"}, "gridDash": {"condition": {"test": "datum.value % 500 !== 0", "value": [1, 2]}, "value": []}, "tickOpacity": {"condition": {"test": "datum.value % 500 !== 0", "value": 0}, "value": 1}, "tickSize": -10, "labelPadding": 17, "title": "Power [W]", "titlePadding": 6}},
            "color": {"field": "s", "type": "nominal", "scale": {"domain": ["Load", "PV", "Generator", "BESS"], "range": ["#FF0000", "#0000FF", "#FF00FF", "#00FF00"]}, "legend": {"legendX": 341, "legendY": 280}},
            "order": {"value": null}
          }
        }
      ]
    }
  ]
}
